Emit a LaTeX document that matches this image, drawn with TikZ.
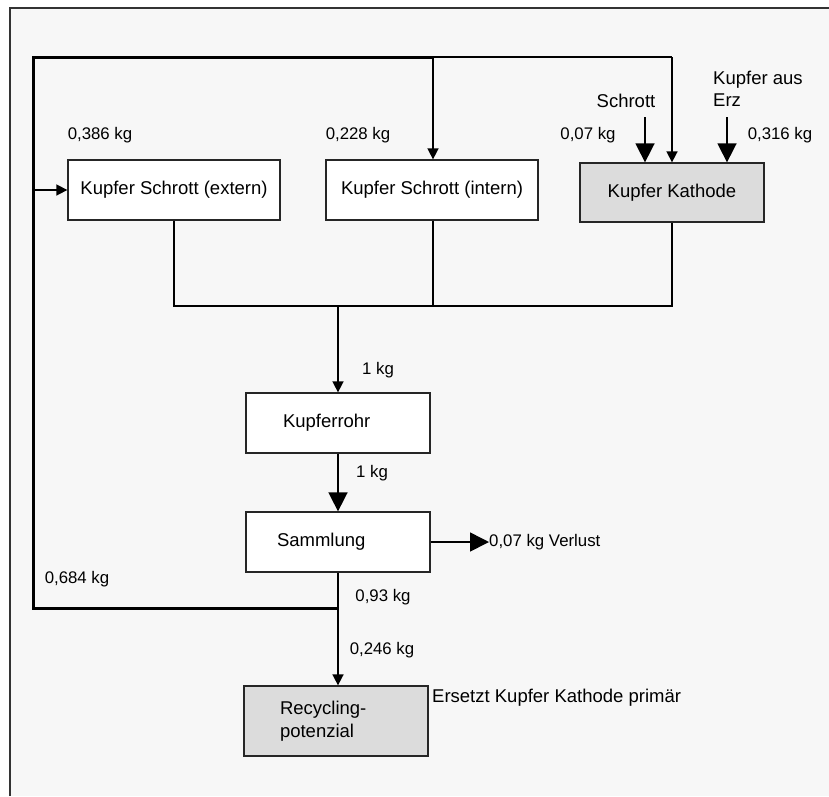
\documentclass[tikz,border=0pt]{standalone}
\usepackage{fontspec}
\setmainfont{Liberation Sans}
\usetikzlibrary{arrows.meta}
\definecolor{paper}{HTML}{F7F7F7}
\definecolor{boxgrey}{HTML}{DCDCDC}

\begin{document}
\begin{tikzpicture}[x=1pt,y=-1pt,
    box/.style={draw=black!85,line width=1.3pt,fill=white,minimum height=60pt,
      inner sep=0pt,font=\fontsize{18.5}{23}\selectfont},
    greybox/.style={box,fill=boxgrey},
    kg/.style={font=\fontsize{16.8}{20}\selectfont,inner sep=0pt},
    txt/.style={font=\fontsize{18.5}{22}\selectfont,inner sep=0pt},
    flow/.style={line width=1.6pt,-{Triangle[length=11pt,width=11pt]}},
    bigflow/.style={line width=1.6pt,-{Triangle[length=19pt,width=19pt]}},
    loopline/.style={line width=3pt}]
    \useasboundingbox (0,0) rectangle (829,796);
    % paper and frame
    \fill[white] (0,0) rectangle (829,796);
    \fill[paper] (10,8) rectangle (829,796);
    \draw[line width=1.5pt,black!80] (10,796) -- (10,8) -- (829,8);
    % boxes
    \node[box,minimum width=212pt] (extern) at (174,190) {Kupfer Schrott (extern)};
    \node[box,minimum width=212pt] (intern) at (432,190) {Kupfer Schrott (intern)};
    \node[greybox,minimum width=184pt,minimum height=59pt] (kathode) at (672,192.5) {Kupfer Kathode};
    \node[box,text width=110pt,inner xsep=37pt,align=left] (rohr) at (338,423) {Kupferrohr};
    \node[box,text width=122pt,inner xsep=31pt,align=left] (samm) at (338,542) {Sammlung};
    \node[greybox,text width=112pt,inner xsep=36pt,align=left,minimum height=70pt] (recyc) at (336,721) {Recycling-\\potenzial};
    % free ends and corners
    \coordinate (tl) at (33,57);
    \coordinate (tm) at (433,57);
    \coordinate (tr) at (672,57);
    \coordinate (mix) at (338,306);
    \coordinate (ret) at (338,608);
    \coordinate (schrottin) at (645,117);
    \coordinate (erzin) at (727,117);
    % labels
    \node[kg] (kgext) at (100,135) {0,386 kg};
    \node[kg] (kgint) at (358,135) {0,228 kg};
    \node[kg] (kgschr) at (588,135) {0,07 kg};
    \node[kg] (kgerz) at (780,135) {0,316 kg};
    \node[txt] (schrott) at (626,101) {Schrott};
    \node[txt,anchor=west,align=left] (erz) at (713,89) {Kupfer aus\\Erz};
    \node[kg] (kgrohr) at (378,370) {1 kg};
    \node[kg] (kgsamm) at (372,473) {1 kg};
    \node[kg,anchor=west] (verl) at (489,542) {0,07 kg Verlust};
    \node[kg] (kgret) at (77,579) {0,684 kg};
    \node[kg] (kgout) at (383,597) {0,93 kg};
    \node[kg] (kgrec) at (382,650) {0,246 kg};
    \node[txt,anchor=west] (ersetzt) at (432,698) {Ersetzt Kupfer Kathode primär};
    % return loop
    \draw[loopline] (ret) -| (tl) -- (tm);
    \draw[line width=1.6pt] (tm) -- (tr);
    \draw[flow] (tl |- extern.west) -- (extern.west);
    \draw[flow] (tm) -- (tm |- intern.north);
    \draw[flow] (tr) -- (kathode.north);
    % inputs to cathode
    \draw[bigflow] (schrottin) -- (schrottin |- kathode.north);
    \draw[bigflow] (erzin) -- (erzin |- kathode.north);
    % merging into the tube
    \draw[line width=1.6pt] (extern.south) |- (kathode.south |- mix) -- (kathode.south);
    \draw[line width=1.6pt] (intern.south -| tm) -- (tm |- mix);
    \draw[flow] (mix) -- (rohr.north);
    \draw[bigflow] (rohr.south) -- (samm.north);
    \draw[bigflow] (samm.east) -- (samm.east -| verl.west);
    \draw[line width=1.6pt] (samm.south) -- (ret);
    \draw[flow] (ret) -- (ret |- recyc.north);
  \end{tikzpicture}
\end{document}
